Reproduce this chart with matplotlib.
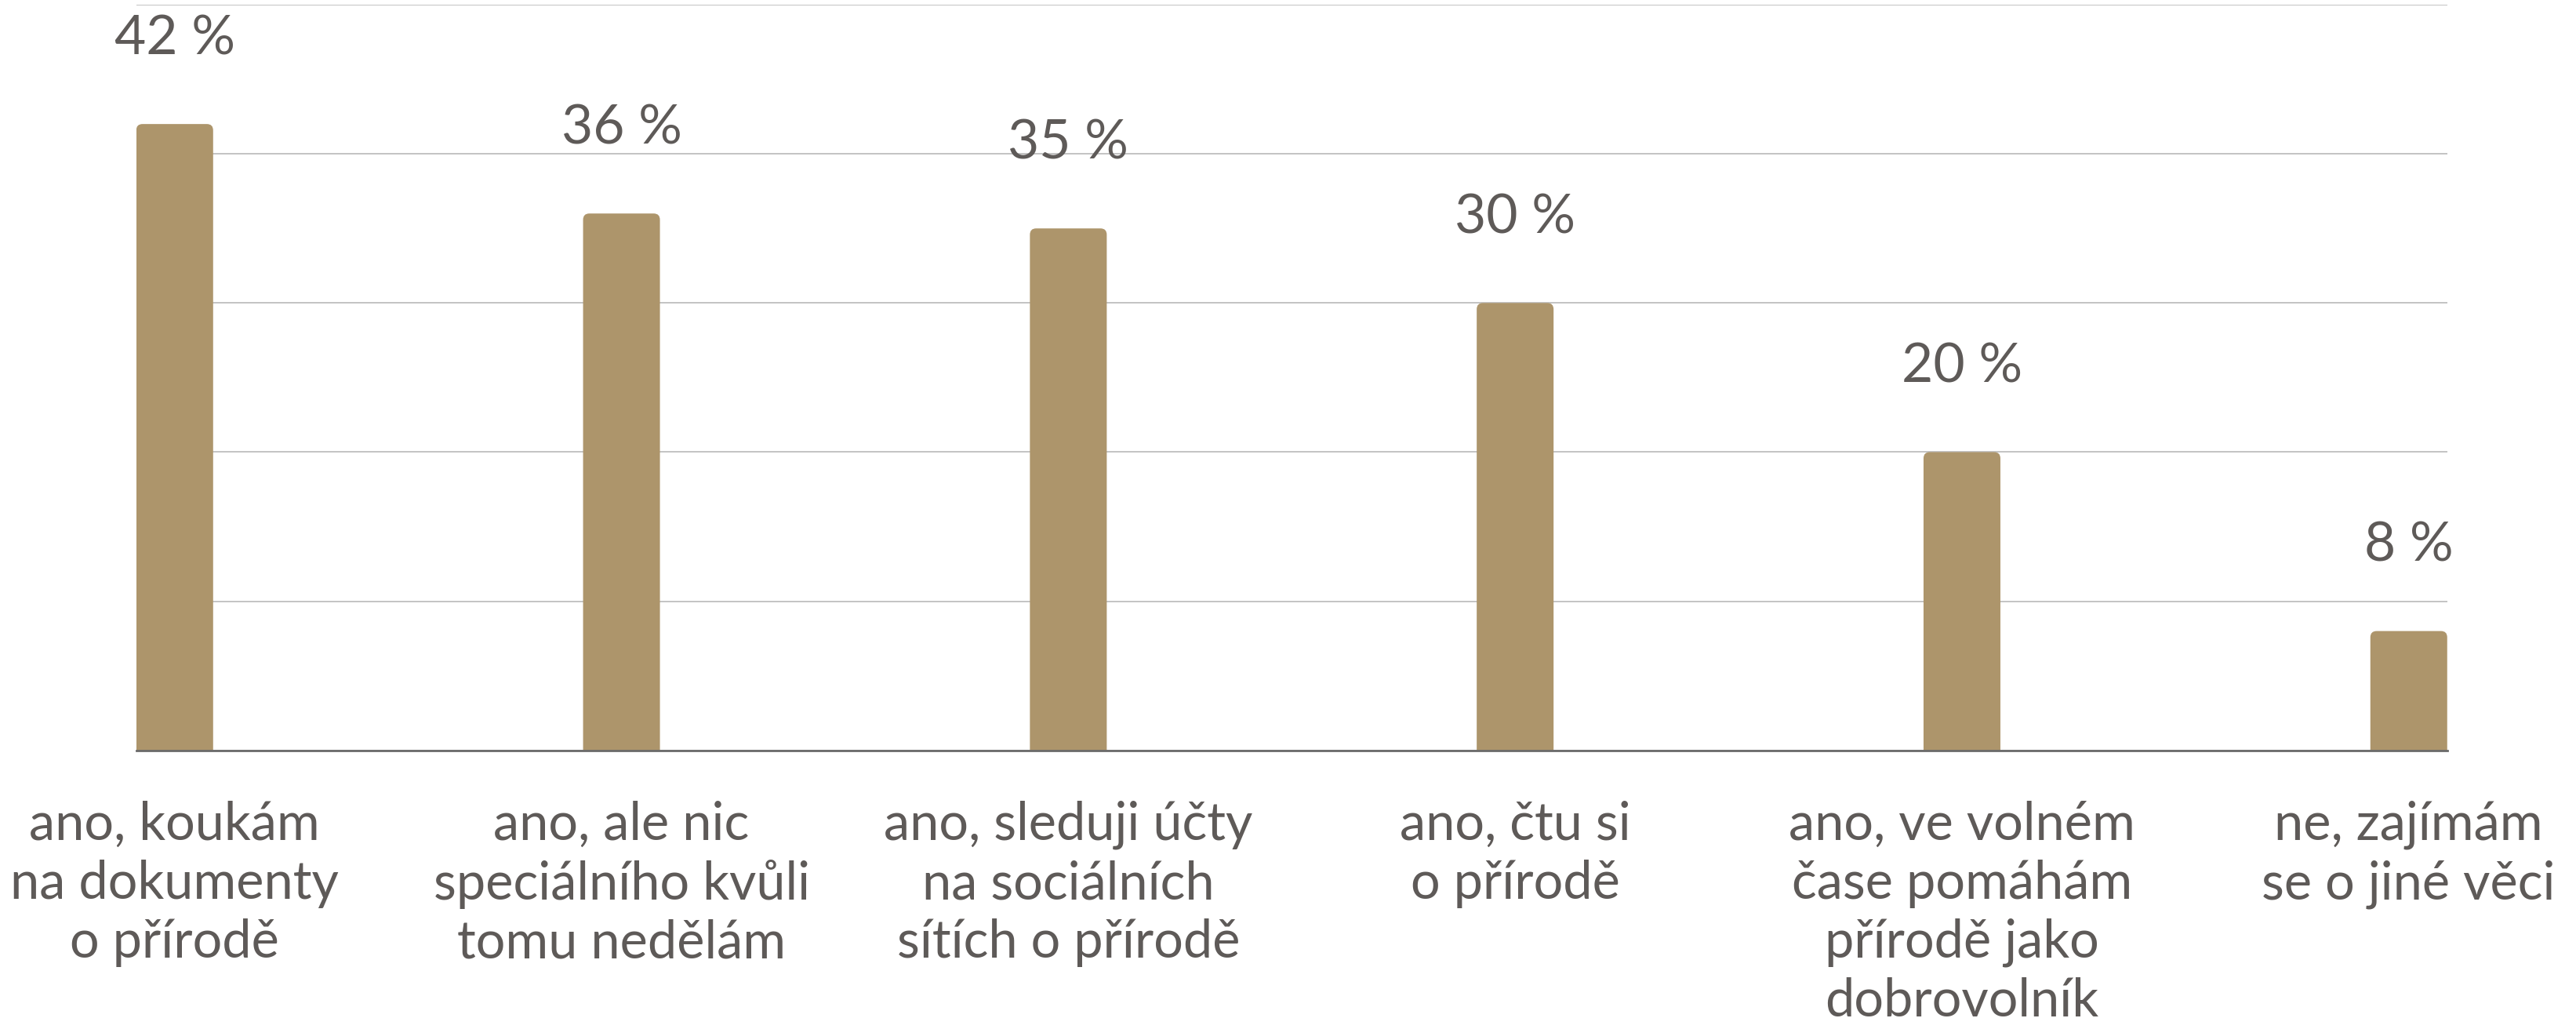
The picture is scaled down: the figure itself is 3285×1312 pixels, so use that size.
import matplotlib
matplotlib.use("Agg")
import matplotlib.pyplot as plt
from matplotlib.patches import FancyBboxPatch

categories = [
    "ano, koukám\nna dokumenty\no přírodě",
    "ano, ale nic\nspeciálního kvůli\ntomu nedělám",
    "ano, sleduji účty\nna sociálních\nsítích o přírodě",
    "ano, čtu si\no přírodě",
    "ano, ve volném\nčase pomáhám\npřírodě jako\ndobrovolník",
    "ne, zajímám\nse o jiné věci",
]
values = [42, 36, 35, 30, 20, 8]
value_labels = ["42 %", "36 %", "35 %", "30 %", "20 %", "8 %"]
y_ticks = [0, 10, 20, 30, 40, 50]

BAR_COLOR = "#AD956B"
TEXT_COLOR = "#5E5A58"
GRID_COLOR = "#C3C3C3"
AXIS_COLOR = "#6A6A6A"

plt.rcParams["font.family"] = ["Lato", "DejaVu Sans"]

fig = plt.figure(figsize=(32.85, 13.12), dpi=100)
ax = fig.add_axes([0.0529, 0.2708, 0.8971, 0.7246])

x = list(range(len(values)))
bar_w = 0.172
bars = ax.bar(x, values, width=bar_w, color=BAR_COLOR, zorder=2)

# swap the plain bars for ones with slightly rounded tops
px_x = ax.get_position().width * fig.get_figwidth() * fig.dpi
px_y = ax.get_position().height * fig.get_figheight() * fig.dpi
x_span = 5 + 2 * 0.086
aspect = (50 / px_y) / (x_span / px_x)
for b in bars:
    x0, w, h = b.get_x(), b.get_width(), b.get_height()
    b.set_visible(False)
    ax.add_patch(FancyBboxPatch(
        (x0, -2), w, h + 2,
        boxstyle="round,pad=0,rounding_size=0.014",
        mutation_aspect=aspect,
        facecolor=BAR_COLOR, edgecolor="none", zorder=2,
    ))

ax.set_xlim(-0.086, 5.086)
ax.set_ylim(0, 50)
ax.set_yticks(y_ticks)
ax.yaxis.grid(True, color=GRID_COLOR, linewidth=1.4, zorder=0)
ax.tick_params(axis="y", length=0, labelleft=False)
for side in ["top", "right", "left"]:
    ax.spines[side].set_visible(False)
ax.spines["bottom"].set_color(AXIS_COLOR)
ax.spines["bottom"].set_linewidth(2)
ax.spines["bottom"].set_zorder(3)

ax.set_xticks(x)
ax.set_xticklabels(categories, fontsize=48, color=TEXT_COLOR, linespacing=1.26)
ax.tick_params(axis="x", length=0, pad=46)

for xi, v, lab in zip(x, values, value_labels):
    ax.annotate(lab, (xi, v), xytext=(0, 64), textcoords="offset points",
                ha="center", va="baseline", fontsize=50, color=TEXT_COLOR)

fig.savefig("out.png", dpi=100)
